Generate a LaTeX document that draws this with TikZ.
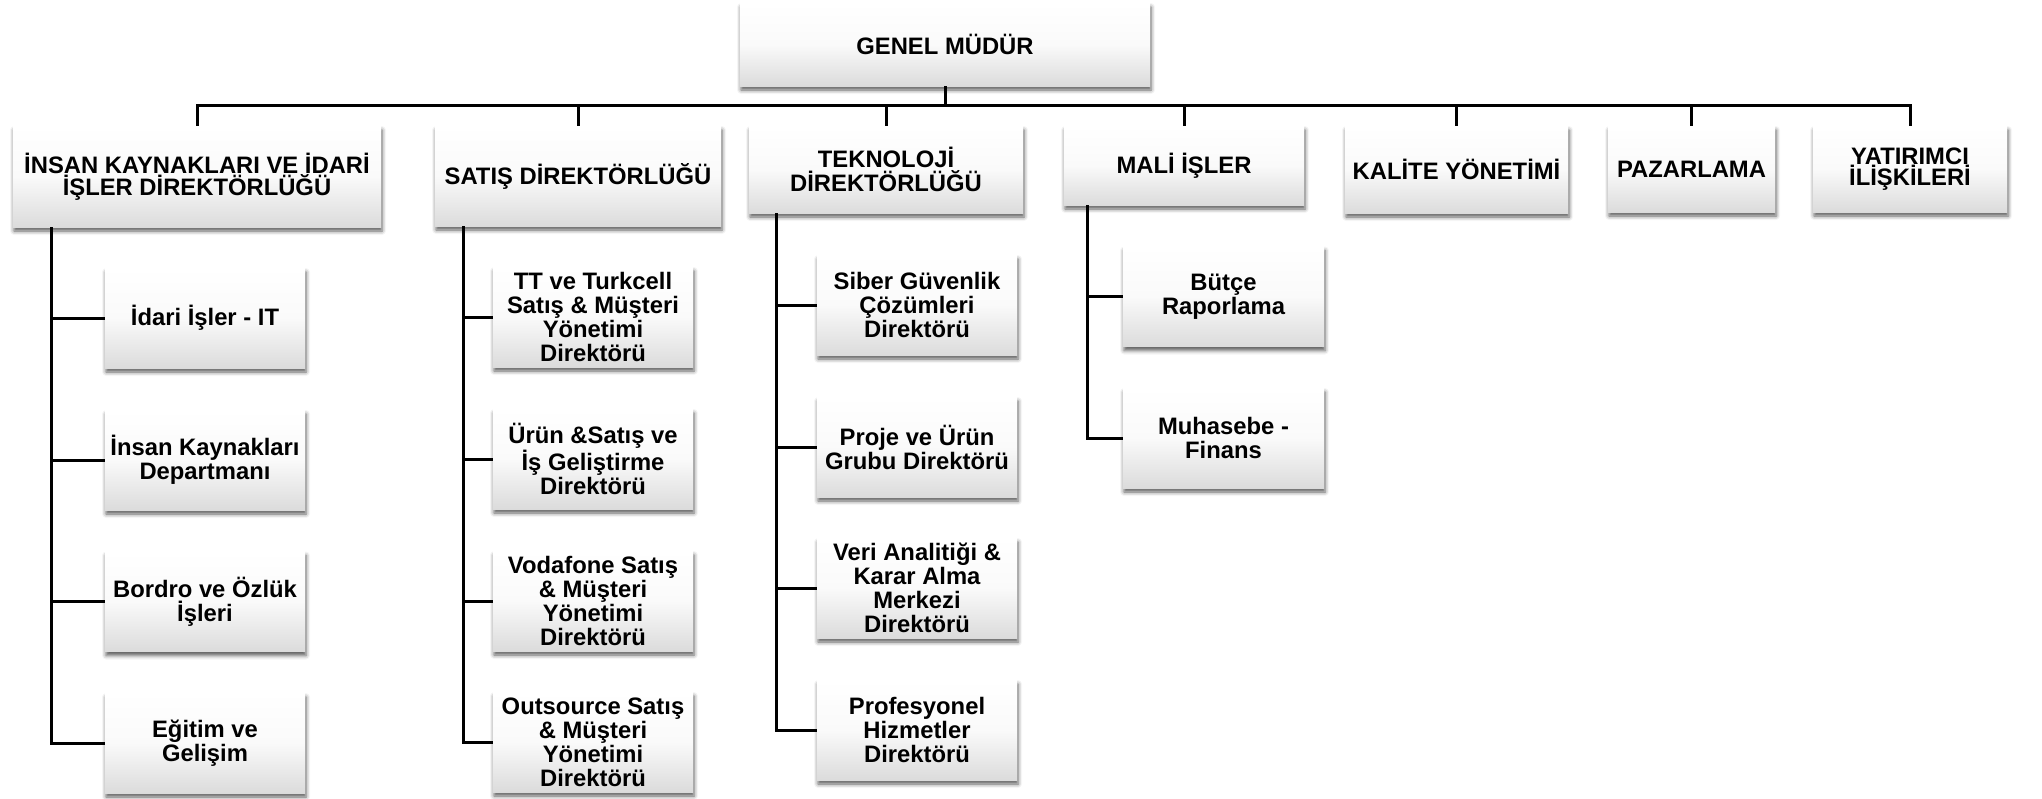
\documentclass[tikz,border=0pt]{standalone}
\usepackage{fontspec}
\setmainfont{Liberation Sans}
\usetikzlibrary{shadows.blur}
\begin{document}
\begin{tikzpicture}[x=1pt,y=-1pt,
  box/.style={shade, top color=white, bottom color=black!14, middle color=black!2,
    draw=none, inner sep=0pt, align=center,
    font=\fontsize{23.8}{24}\selectfont\bfseries,
    blur shadow={shadow xshift=1pt, shadow yshift=-4pt, shadow blur radius=4pt, shadow opacity=65}},
  sz/.style 2 args={minimum width=#1pt, minimum height=#2pt},
  kid/.style={box, sz={200}{100}},
  conn/.style={line width=3pt, draw=black, line join=miter}]
\useasboundingbox (0,0) rectangle (2042,798);

% top
\node[box, sz={410}{83}] (gm) at (945,44.5) {GENEL MÜDÜR};

% level 1
\node[box, sz={368}{101}, font=\fontsize{23.8}{20}\selectfont\bfseries] (ik) at (197,176.5) {İNSAN KAYNAKLARI VE İDARİ\\İŞLER DİREKTÖRLÜĞÜ};
\node[box, sz={286}{100}] (satis) at (578,176) {SATIŞ DİREKTÖRLÜĞÜ};
\node[box, sz={274}{87}] (tek) at (886,169.5) {TEKNOLOJİ\\DİREKTÖRLÜĞÜ};
\node[box, sz={240}{79}] (mali) at (1184,165.5) {MALİ İŞLER};
\node[box, sz={223}{87}] (kalite) at (1456.5,169.5) {KALİTE YÖNETİMİ};
\node[box, sz={167}{86}] (paz) at (1691.5,169) {PAZARLAMA};
\node[box, sz={194}{86}, font=\fontsize{23.8}{21}\selectfont\bfseries] (yat) at (1910,169) {YATIRIMCI\\İLİŞKİLERİ};

% level 2 - IK
\node[kid] (ik1) at (205,318) {İdari İşler - IT};
\node[kid] (ik2) at (205,460) {İnsan Kaynakları\\Departmanı};
\node[kid] (ik3) at (205,601.5) {Bordro ve Özlük\\İşleri};
\node[kid] (ik4) at (205,743) {Eğitim ve\\Gelişim};

% level 2 - Satis
\node[kid] (s1) at (593,317) {TT ve Turkcell\\Satış \& Müşteri\\Yönetimi\\Direktörü};
\node[kid] (s2) at (593,459) {Ürün \&Satış ve\\İş Geliştirme\\Direktörü};
\node[kid] (s3) at (593,601) {Vodafone Satış\\\& Müşteri\\Yönetimi\\Direktörü};
\node[kid] (s4) at (593,742) {Outsource Satış\\\& Müşteri\\Yönetimi\\Direktörü};

% level 2 - Teknoloji
\node[kid] (t1) at (917,305) {Siber Güvenlik\\Çözümleri\\Direktörü};
\node[kid] (t2) at (917,447) {Proje ve Ürün\\Grubu Direktörü};
\node[kid] (t3) at (917,588) {Veri Analitiği \&\\Karar Alma\\Merkezi\\Direktörü};
\node[kid] (t4) at (917,730) {Profesyonel\\Hizmetler\\Direktörü};

% level 2 - Mali
\node[kid, minimum width=201pt] (m1) at (1223.5,296.5) {Bütçe\\Raporlama};
\node[kid, minimum width=201pt] (m2) at (1223.5,438) {Muhasebe -\\Finans};

% connectors
\coordinate (bus) at (945,105);
\draw[conn] (gm.south) -- (bus);
\draw[conn] (bus) -| (ik.north);
\draw[conn] (bus) -| (satis.north);
\draw[conn] (bus) -| (tek.north);
\draw[conn] (bus) -| (mali.north);
\draw[conn] (bus) -| (kalite.north);
\draw[conn] (bus) -| (paz.north);
\draw[conn] (bus) -| (yat.north);

\coordinate (ikS) at ([xshift=39pt]ik.south west);
\foreach \c in {ik1,ik2,ik3,ik4} \draw[conn] (ikS) |- (\c.west);
\coordinate (sS) at ([xshift=29pt]satis.south west);
\foreach \c in {s1,s2,s3,s4} \draw[conn] (sS) |- (\c.west);
\coordinate (tS) at ([xshift=28pt]tek.south west);
\foreach \c in {t1,t2,t3,t4} \draw[conn] (tS) |- (\c.west);
\coordinate (mS) at ([xshift=24pt]mali.south west);
\foreach \c in {m1,m2} \draw[conn] (mS) |- (\c.west);
\end{tikzpicture}
\end{document}
